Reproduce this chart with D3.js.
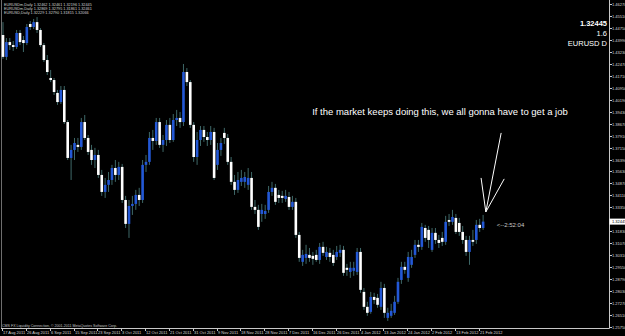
<!DOCTYPE html>
<html>
<head>
<meta charset="utf-8">
<script src="https://cdn.jsdelivr.net/npm/d3@7"></script>
<style>
  html, body { margin: 0; padding: 0; background: #000; }
  svg { display: block; font-family: "Liberation Sans", Arial, sans-serif; }
</style>
</head>
<body>
<div id="chart"></div>
<script>
// EURUSD daily, 17 Aug 2011 .. 24 Feb 2012
var openPrices = [
	1.4430, 1.4291, 1.4385, 1.4366, 1.4354, 1.4443, 1.4398, 1.4379, 1.4500, 1.4481,
	1.4512, 1.4462, 1.4366, 1.4271, 1.4157, 1.4144, 1.4062, 1.4004, 1.4081, 1.3877,
	1.3649, 1.3700, 1.3732, 1.3719, 1.3877, 1.3776, 1.3700, 1.3636, 1.3668, 1.3541,
	1.3433, 1.3478, 1.3509, 1.3585, 1.3541, 1.3592, 1.3382, 1.3230, 1.3344, 1.3357,
	1.3414, 1.3382, 1.3605, 1.3624, 1.3776, 1.3757, 1.3877, 1.3732, 1.3763, 1.3859,
	1.3763, 1.3890, 1.3903, 1.3877, 1.4195, 1.4131, 1.3859, 1.3655, 1.3763, 1.3827,
	1.3782, 1.3763, 1.3814, 1.3605, 1.3700, 1.3808, 1.3776, 1.3624, 1.3497, 1.3446,
	1.3497, 1.3497, 1.3478, 1.3522, 1.3338, 1.3319, 1.3293, 1.3293, 1.3319, 1.3433,
	1.3459, 1.3414, 1.3408, 1.3389, 1.3401, 1.3338, 1.3370, 1.3160, 1.2989, 1.3014,
	1.3033, 1.3027, 1.3033, 1.3001, 1.3084, 1.3020, 1.3046, 1.3033, 1.3020, 1.3046,
	1.3065, 1.2951, 1.2925, 1.2932, 1.2925, 1.3052, 1.2798, 1.2703, 1.2671, 1.2766,
	1.2760, 1.2703, 1.2823, 1.2633, 1.2646, 1.2665, 1.2735, 1.2874, 1.2957, 1.2887,
	1.2970, 1.3033, 1.3097, 1.3084, 1.3204, 1.3192, 1.3065, 1.3173, 1.3128, 1.3141,
	1.3116, 1.3255, 1.3243, 1.3268, 1.3236, 1.3179, 1.3128, 1.3052, 1.3128, 1.3128,
	1.3224, 1.3204
];
var highPrices = [
	1.4512, 1.4411, 1.4411, 1.4392, 1.4462, 1.4462, 1.4424, 1.4500, 1.4519, 1.4532,
	1.4544, 1.4474, 1.4379, 1.4303, 1.4208, 1.4157, 1.4081, 1.4106, 1.4106, 1.3890,
	1.3732, 1.3776, 1.3776, 1.3903, 1.3922, 1.3795, 1.3732, 1.3713, 1.3700, 1.3573,
	1.3522, 1.3560, 1.3605, 1.3636, 1.3624, 1.3611, 1.3408, 1.3382, 1.3408, 1.3446,
	1.3459, 1.3636, 1.3668, 1.3814, 1.3827, 1.3903, 1.3903, 1.3795, 1.3890, 1.3903,
	1.3928, 1.3954, 1.3941, 1.4246, 1.4220, 1.4144, 1.3877, 1.3814, 1.3852, 1.3852,
	1.3814, 1.3852, 1.3840, 1.3744, 1.3776, 1.3840, 1.3801, 1.3655, 1.3541, 1.3560,
	1.3573, 1.3560, 1.3585, 1.3560, 1.3382, 1.3351, 1.3357, 1.3351, 1.3471, 1.3497,
	1.3484, 1.3446, 1.3440, 1.3446, 1.3433, 1.3408, 1.3395, 1.3179, 1.3065, 1.3097,
	1.3077, 1.3052, 1.3065, 1.3109, 1.3116, 1.3084, 1.3077, 1.3065, 1.3090, 1.3097,
	1.3090, 1.2976, 1.2989, 1.2989, 1.3077, 1.3077, 1.2823, 1.2735, 1.2798, 1.2792,
	1.2785, 1.2862, 1.2849, 1.2697, 1.2722, 1.2773, 1.2887, 1.2989, 1.2989, 1.3052,
	1.3065, 1.3128, 1.3128, 1.3236, 1.3224, 1.3217, 1.3204, 1.3204, 1.3160, 1.3179,
	1.3281, 1.3293, 1.3319, 1.3293, 1.3268, 1.3217, 1.3154, 1.3154, 1.3192, 1.3255,
	1.3262, 1.3287
];
var lowPrices = [
	1.4278, 1.4271, 1.4335, 1.4329, 1.4341, 1.4366, 1.4322, 1.4366, 1.4462, 1.4468,
	1.4443, 1.4354, 1.4259, 1.4176, 1.4131, 1.4049, 1.3986, 1.3992, 1.3865, 1.3636,
	1.3509, 1.3636, 1.3687, 1.3700, 1.3763, 1.3668, 1.3605, 1.3585, 1.3522, 1.3408,
	1.3395, 1.3433, 1.3478, 1.3497, 1.3509, 1.3363, 1.3204, 1.3141, 1.3287, 1.3319,
	1.3344, 1.3363, 1.3560, 1.3605, 1.3700, 1.3732, 1.3713, 1.3687, 1.3725, 1.3744,
	1.3751, 1.3852, 1.3840, 1.3852, 1.4106, 1.3840, 1.3624, 1.3605, 1.3725, 1.3751,
	1.3725, 1.3732, 1.3509, 1.3573, 1.3662, 1.3738, 1.3605, 1.3478, 1.3414, 1.3427,
	1.3471, 1.3459, 1.3446, 1.3319, 1.3293, 1.3192, 1.3243, 1.3262, 1.3300, 1.3408,
	1.3351, 1.3363, 1.3363, 1.3370, 1.3319, 1.3319, 1.3141, 1.2989, 1.2963, 1.2976,
	1.2989, 1.2970, 1.2989, 1.2976, 1.3027, 1.3001, 1.2989, 1.2963, 1.3001, 1.3020,
	1.2900, 1.2900, 1.2887, 1.2900, 1.2906, 1.2792, 1.2684, 1.2646, 1.2659, 1.2722,
	1.2697, 1.2684, 1.2633, 1.2614, 1.2633, 1.2652, 1.2722, 1.2849, 1.2913, 1.2862,
	1.2951, 1.3014, 1.3052, 1.3065, 1.3116, 1.3077, 1.3052, 1.3103, 1.3077, 1.3090,
	1.3097, 1.3217, 1.3224, 1.3166, 1.3154, 1.3103, 1.3027, 1.2970, 1.3090, 1.3103,
	1.3179, 1.3192
];
var closePrices = [
	1.4291, 1.4385, 1.4366, 1.4354, 1.4443, 1.4385, 1.4379, 1.4481, 1.4481, 1.4512,
	1.4462, 1.4366, 1.4271, 1.4195, 1.4144, 1.4068, 1.4004, 1.4081, 1.3877, 1.3649,
	1.3700, 1.3744, 1.3719, 1.3877, 1.3776, 1.3687, 1.3636, 1.3668, 1.3541, 1.3433,
	1.3478, 1.3509, 1.3585, 1.3541, 1.3592, 1.3382, 1.3230, 1.3344, 1.3357, 1.3414,
	1.3382, 1.3605, 1.3624, 1.3776, 1.3757, 1.3877, 1.3732, 1.3763, 1.3859, 1.3763,
	1.3890, 1.3903, 1.3877, 1.4195, 1.4131, 1.3859, 1.3655, 1.3763, 1.3827, 1.3782,
	1.3763, 1.3814, 1.3522, 1.3700, 1.3744, 1.3776, 1.3624, 1.3497, 1.3446, 1.3509,
	1.3522, 1.3528, 1.3522, 1.3338, 1.3319, 1.3211, 1.3319, 1.3312, 1.3433, 1.3459,
	1.3370, 1.3395, 1.3395, 1.3408, 1.3338, 1.3370, 1.3160, 1.3014, 1.3033, 1.3039,
	1.3014, 1.3008, 1.3001, 1.3084, 1.3046, 1.3052, 1.3020, 1.2982, 1.3052, 1.3065,
	1.2919, 1.2938, 1.2951, 1.2951, 1.3052, 1.2811, 1.2703, 1.2665, 1.2766, 1.2747,
	1.2716, 1.2823, 1.2665, 1.2665, 1.2678, 1.2735, 1.2862, 1.2957, 1.2938, 1.3020,
	1.3020, 1.3097, 1.3084, 1.3211, 1.3141, 1.3128, 1.3173, 1.3128, 1.3109, 1.3116,
	1.3243, 1.3243, 1.3274, 1.3179, 1.3179, 1.3128, 1.3052, 1.3128, 1.3116, 1.3224,
	1.3204, 1.32445
];

var priceTicks = [
	1.46270, 1.45510, 1.44750, 1.43990, 1.43230, 1.42470, 1.41710, 1.40950, 1.40190, 1.39430,
	1.38670, 1.37910, 1.37150, 1.36390, 1.35630, 1.34870, 1.34110, 1.33350, 1.32590, 1.31830,
	1.31070, 1.30310, 1.29550, 1.28790, 1.28030, 1.27270, 1.26510, 1.25750
];
var dateLabels = [
	'17 Aug 2011', '26 Aug 2011', '6 Sep 2011', '15 Sep 2011', '23 Sep 2011', '3 Oct 2011',
	'12 Oct 2011', '21 Oct 2011', '31 Oct 2011', '9 Nov 2011', '18 Nov 2011', '28 Nov 2011',
	'7 Dec 2011', '16 Dec 2011', '26 Dec 2011', '4 Jan 2012', '13 Jan 2012', '24 Jan 2012',
	'2 Feb 2012', '13 Feb 2012', '21 Feb 2012'
];
var barsPerLabel = 7;
var headerLines = [
	'EURUSDm,Daily  1.32462 1.32461 1.32196 1.32445',
	'EURUSDm,Daily  1.32869 1.32795 1.31861 1.32461',
	'EURUSD,Daily  1.32229 1.32790 1.31815 1.32066'
];
var lastPrice = 1.32445;
var countdown = '<--2:52:04';
var comment = 'If the market keeps doing this, we all gonna have to get a job';
// hand-drawn arrow, in bar/price units
var arrowTip = {bar: 141.8, price: 1.3306};
var arrowEnds = [
	{bar: 146.3, price: 1.3808},
	{bar: 140.4, price: 1.3522},
	{bar: 147.2, price: 1.3516}
];

var width = 625, height = 336;
var plot = {left: 1, right: 609.5, top: 0, bottom: 328.5};

var svg = d3.select('#chart').append('svg')
	.attr('width', width)
	.attr('height', height);

svg.append('rect')
	.attr('width', width)
	.attr('height', height)
	.attr('fill', '#000');

var x = d3.scaleLinear().domain([0, 178]).range([3, 609.1]);
var y = d3.scaleLinear().domain([1.2575, 1.4627]).range([327, 4]);

// frame
svg.append('line')
	.attr('x1', plot.left + 0.5).attr('x2', plot.left + 0.5)
	.attr('y1', plot.top).attr('y2', plot.bottom)
	.attr('stroke', '#6e6e6e');
svg.append('line')
	.attr('x1', plot.right).attr('x2', plot.right)
	.attr('y1', plot.top).attr('y2', plot.bottom)
	.attr('stroke', '#c8c8c8');
svg.append('line')
	.attr('x1', plot.left).attr('x2', plot.right)
	.attr('y1', plot.bottom).attr('y2', plot.bottom)
	.attr('stroke', '#c8c8c8');

// price axis (the label under the bid box is hidden, as in the terminal)
var by = y(lastPrice);
var yAxis = svg.append('g');
priceTicks.forEach(function(p) {
	var py = Math.round(y(p)) + 0.5;
	yAxis.append('line')
		.attr('x1', plot.right).attr('x2', plot.right + 2.5)
		.attr('y1', py).attr('y2', py)
		.attr('stroke', '#c8c8c8');
	if (Math.abs(py - by) < 6) return;
	yAxis.append('text')
		.attr('x', 612)
		.attr('y', py + 1.4)
		.attr('font-size', 4)
		.attr('fill', '#d8d8d8')
		.text(p.toFixed(5));
});

// time axis
var xAxis = svg.append('g');
dateLabels.forEach(function(d, j) {
	var px = Math.round(x(j * barsPerLabel) - 1) + 0.5;
	xAxis.append('line')
		.attr('x1', px).attr('x2', px)
		.attr('y1', plot.bottom).attr('y2', plot.bottom + 2.5)
		.attr('stroke', '#c8c8c8');
	xAxis.append('text')
		.attr('x', px + 0.5)
		.attr('y', 334)
		.attr('font-size', 4)
		.attr('fill', '#d8d8d8')
		.text(d);
});

// candles
var bars = closePrices.map(function(c, i) {
	return {i: i, o: openPrices[i], h: highPrices[i], l: lowPrices[i], c: c};
});
var candle = svg.append('g').selectAll('g')
	.data(bars)
	.enter().append('g');
candle.append('line')
	.attr('x1', function(d) { return x(d.i); })
	.attr('x2', function(d) { return x(d.i); })
	.attr('y1', function(d) { return y(d.h); })
	.attr('y2', function(d) { return y(d.l); })
	.attr('stroke', '#3e6868')
	.attr('stroke-width', 1);
candle.append('rect')
	.attr('x', function(d) { return x(d.i) - 1.3; })
	.attr('width', 2.6)
	.attr('y', function(d) { return y(Math.max(d.o, d.c)); })
	.attr('height', function(d) { return Math.max(1, Math.abs(y(d.o) - y(d.c))); })
	.attr('fill', function(d) { return d.c >= d.o ? '#2358d6' : '#ffffff'; });

// header, top-right info
headerLines.forEach(function(t, k) {
	svg.append('text')
		.attr('x', 4)
		.attr('y', 5.5 + k * 4.2)
		.attr('font-size', 3.8)
		.attr('fill', '#d0d0d0')
		.text(t);
});
svg.append('text')
	.attr('x', 607).attr('y', 26)
	.attr('text-anchor', 'end')
	.attr('font-size', 7.5)
	.attr('font-weight', 'bold')
	.attr('fill', '#fff')
	.text(lastPrice.toFixed(5));
svg.append('text')
	.attr('x', 607).attr('y', 36)
	.attr('text-anchor', 'end')
	.attr('font-size', 7.5)
	.attr('fill', '#fff')
	.text('1.6');
svg.append('text')
	.attr('x', 607).attr('y', 46)
	.attr('text-anchor', 'end')
	.attr('font-size', 7.5)
	.attr('fill', '#fff')
	.text('EURUSD D');

// bid box on the price axis
svg.append('rect')
	.attr('x', plot.right).attr('y', by - 3)
	.attr('width', width - plot.right).attr('height', 6)
	.attr('fill', '#fff');
svg.append('text')
	.attr('x', 612).attr('y', by + 1.5)
	.attr('font-size', 4)
	.attr('fill', '#000')
	.text(lastPrice.toFixed(5));

// annotations
svg.append('text')
	.attr('x', x(90.8)).attr('y', y(1.3941) + 3)
	.attr('font-size', 9.5)
	.attr('fill', '#fff')
	.text(comment);
arrowEnds.forEach(function(e) {
	svg.append('line')
		.attr('x1', x(arrowTip.bar)).attr('y1', y(arrowTip.price))
		.attr('x2', x(e.bar)).attr('y2', y(e.price))
		.attr('stroke', '#fff')
		.attr('stroke-width', 1);
});
svg.append('text')
	.attr('x', x(145)).attr('y', y(lastPrice) + 5.5)
	.attr('font-size', 6)
	.attr('fill', '#c8c8c8')
	.text(countdown);

svg.append('text')
	.attr('x', 2).attr('y', 326.5)
	.attr('font-size', 3.6)
	.attr('fill', '#c0c0c0')
	.text('CMS FX Liquidity Connection, \u00a9 2001-2011 MetaQuotes Software Corp.');
</script>
</body>
</html>
